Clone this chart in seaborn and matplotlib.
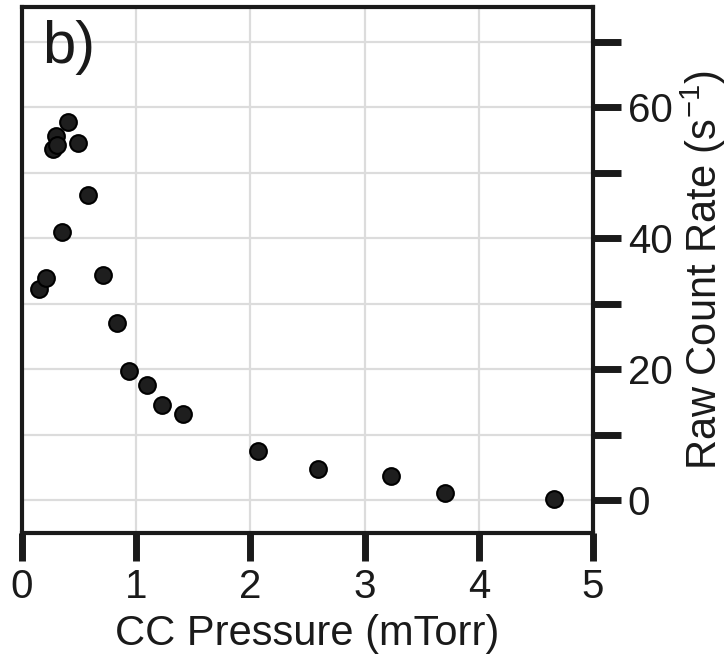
import matplotlib
matplotlib.use("Agg")
import matplotlib.pyplot as plt
import matplotlib.ticker as mticker
import numpy as np
import pandas as pd
import seaborn as sns

# CC pressure (mTorr) and raw count rate (1/s)
pressure = [0.15, 0.21, 0.27, 0.30, 0.31, 0.40, 0.49, 0.35, 0.58, 0.71,
            0.83, 0.94, 1.09, 1.23, 1.41, 2.07, 2.59, 3.23, 3.70, 4.66]
count_rate = [32.2, 33.9, 53.7, 55.7, 54.2, 57.7, 54.5, 40.9, 46.6, 34.4,
              27.0, 19.7, 17.6, 14.5, 13.2, 7.6, 4.7, 3.7, 1.1, 0.15]

x_ticks = [0, 1, 2, 3, 4, 5]
y_ticks = [0, 10, 20, 30, 40, 50, 60, 70]
y_labelled = [0, 20, 40, 60]

df = pd.DataFrame({"pressure": pressure, "rate": count_rate})

sns.set_style("white")
plt.rcParams["font.family"] = ["Liberation Sans", "DejaVu Sans"]
plt.rcParams["mathtext.fontset"] = "custom"
plt.rcParams["mathtext.rm"] = "Liberation Sans"
plt.rcParams["mathtext.it"] = "Liberation Sans"

fig = plt.figure(figsize=(7.27, 6.54), dpi=100)
ax = fig.add_axes([0.0303, 0.185, 0.7854, 0.804])

sns.scatterplot(data=df, x="pressure", y="rate", ax=ax, s=145,
                color="#1e1e1e", edgecolor="black", linewidth=1.5, zorder=3)

ax.set_xlim(0, 5)
ax.set_ylim(-5, 75.3)
ax.set_xticks(x_ticks)
ax.set_yticks(y_ticks)
ax.yaxis.set_major_formatter(mticker.FuncFormatter(
    lambda v, p: f"{int(round(v))}" if int(round(v)) in y_labelled else ""))

ax.grid(True, color="#dcdcdc", linewidth=1.6, zorder=0)
ax.set_axisbelow(True)

ax.yaxis.tick_right()
ax.yaxis.set_label_position("right")

for side in ["left", "right", "top", "bottom"]:
    ax.spines[side].set_visible(True)
    ax.spines[side].set_color("#1a1a1a")
    ax.spines[side].set_linewidth(3.0)

ax.tick_params(axis="both", direction="out", length=20, width=5,
               color="#1a1a1a", labelsize=29, labelcolor="#1a1a1a", pad=5)
ax.tick_params(axis="x", bottom=True, top=False)
ax.tick_params(axis="y", right=True, left=False)

ax.set_xlabel("CC Pressure (mTorr)", fontsize=30, color="#1a1a1a", labelpad=6)
ax.set_ylabel(r"Raw Count Rate (s$^{-1}$)", fontsize=30, color="#1a1a1a",
              labelpad=4)

ax.text(0.035, 0.975, "b)", transform=ax.transAxes, fontsize=43,
        color="#1a1a1a", ha="left", va="top")

fig.savefig("out.png", dpi=100)
